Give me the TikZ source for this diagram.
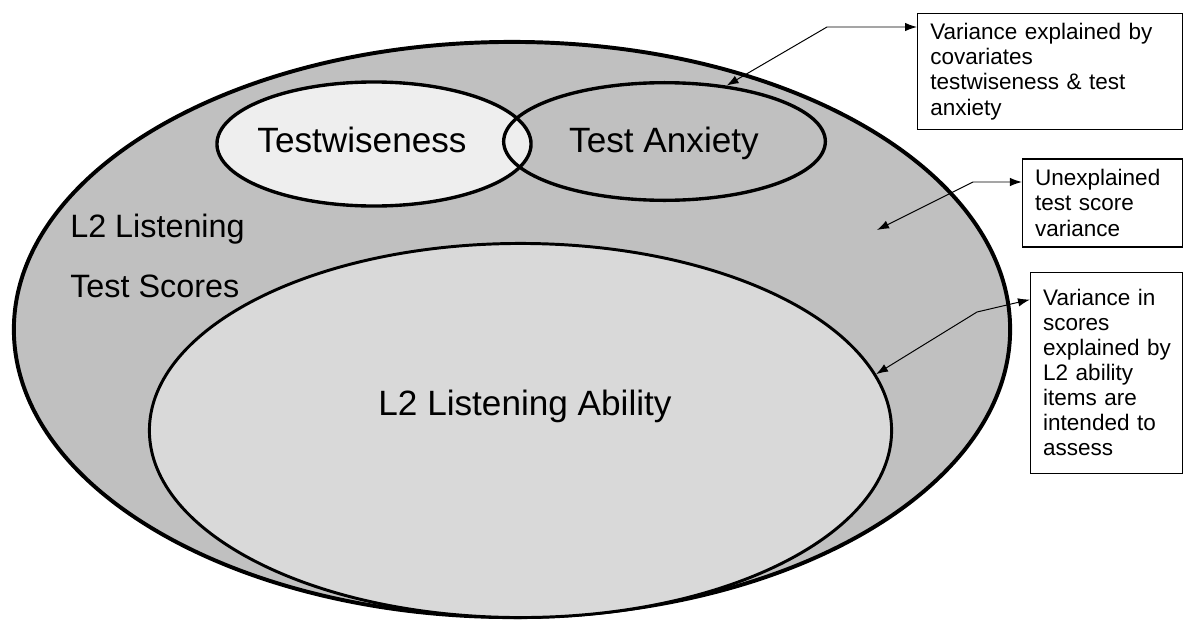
\documentclass[tikz,border=0pt]{standalone}
\usepackage{fontspec}
\setmainfont{Liberation Sans}
\usepackage{tikz}
\usetikzlibrary{arrows.meta, positioning, calc, shapes}
\definecolor{ScoreGray}{RGB}{192,192,192}
\definecolor{AbilityGray}{RGB}{217,217,217}
\definecolor{WiseGray}{RGB}{238,238,238}

\begin{document}
\begin{tikzpicture}[x=0.025cm, y=0.025cm,
  blob/.style={ellipse, inner sep=0pt, draw=black, line width=2.4pt},
  big/.style={inner sep=0pt, font=\fontsize{25}{30}\selectfont},
  note/.style={draw=black, line width=0.9pt, fill=white, anchor=north west, align=left, inner xsep=9pt, inner ysep=0pt, font=\fontsize{16}{17.8}\selectfont},
  link/.style={line width=0.7pt, {Latex[length=8.5pt,width=6pt]}-{Latex[length=8.5pt,width=6pt]}}]
\useasboundingbox (0,0) rectangle (1201,-631);
% the nested ellipses
\node[blob, fill=ScoreGray, line width=2.8pt, minimum width=24.9cm, minimum height=14.375cm] (LS) at (512,-329.5) {};
\node[blob, fill=AbilityGray, line width=2.1pt, minimum width=18.55cm, minimum height=9.35cm] (LA) at (520.5,-430.5) {};
\node[blob, fill=WiseGray, minimum width=7.85cm, minimum height=3.1cm] (TW) at (374,-144) {};
\node[blob, minimum width=8.04cm, minimum height=2.94cm] (TA) at (664.5,-141.5) {};
% labels
\node[big, anchor=base] (TWt) at (362,-152) {Testwiseness};
\node[big, anchor=base] (TAt) at (664,-152) {Test Anxiety};
\node[big, anchor=base] (LAt) at (525,-415) {L2 Listening Ability};
\node[inner sep=0pt, font=\fontsize{23}{28}\selectfont, anchor=base west] (LS1) at (70,-237) {L2 Listening};
\node[inner sep=0pt, font=\fontsize{23}{28}\selectfont, anchor=base west] (LS2) at (70,-297) {Test Scores};
% callout boxes
\node[note, text width=170.4pt, minimum height=82.5pt] (N1) at (917,-13) {Variance explained by\\covariates\\testwiseness \& test\\anxiety};
\node[note, text width=95.8pt, minimum height=62.6pt, below=0.7cm of N1.south east, anchor=north east] (N2) {Unexplained\\test score\\variance};
\node[note, text width=90.1pt, minimum height=142.9pt, below=0.6cm of N2.south east, anchor=north east] (N3) {Variance in\\scores\\explained~by\\L2 ability\\items are\\intended to\\assess};
% connectors
\coordinate (K1) at (827,-27);
\coordinate (UV) at (877,-230);
\coordinate (K2) at (973,-182);
\coordinate (K3) at (977,-312);
\draw[link] (TA.42) -- (K1) -- (N1.west |- K1);
\draw[link] (UV) -- (K2) -- (N2.west |- K2);
\draw[link] (LA.9) -- (K3) -- ($(N3.north west)+(0,-28)$);
\end{tikzpicture}
\end{document}
